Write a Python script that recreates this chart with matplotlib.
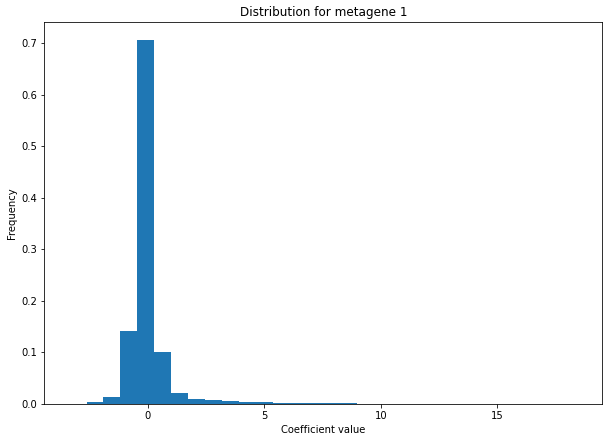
import numpy as np
import matplotlib
matplotlib.use('Agg')
import matplotlib.pyplot as plt

# bordes de los bins (30 bins)
x_min = -3.34
x_max = 18.41
n_bins = 30
frecuencias = [0.0, 0.0026, 0.0123, 0.141, 0.7055, 0.0997, 0.020, 0.0082, 0.0062, 0.0041,
               0.0023, 0.0021, 0.0019, 0.0018, 0.0017, 0.0016, 0.0015, 0.0, 0.0, 0.0,
               0.0, 0.0, 0.0, 0.0, 0.0, 0.0, 0.0, 0.0, 0.0, 0.0]

bins = np.linspace(x_min, x_max, n_bins + 1)
centros = (bins[:-1] + bins[1:]) / 2

fig = plt.figure(figsize=(609/72, 441/72), dpi=72)
ax = fig.add_subplot(111)
ax.hist(centros, bins=bins, weights=frecuencias, color='#1f77b4')
ax.set_xlim(x_min - 0.05*(x_max - x_min), x_max + 0.05*(x_max - x_min))
ax.set_title('Distribution for metagene 1')
ax.set_xlabel('Coefficient value')
ax.set_ylabel('Frequency')
fig.subplots_adjust(left=0.0727, right=0.989, top=0.9495, bottom=0.085)

plt.savefig('out.png', dpi=72)
